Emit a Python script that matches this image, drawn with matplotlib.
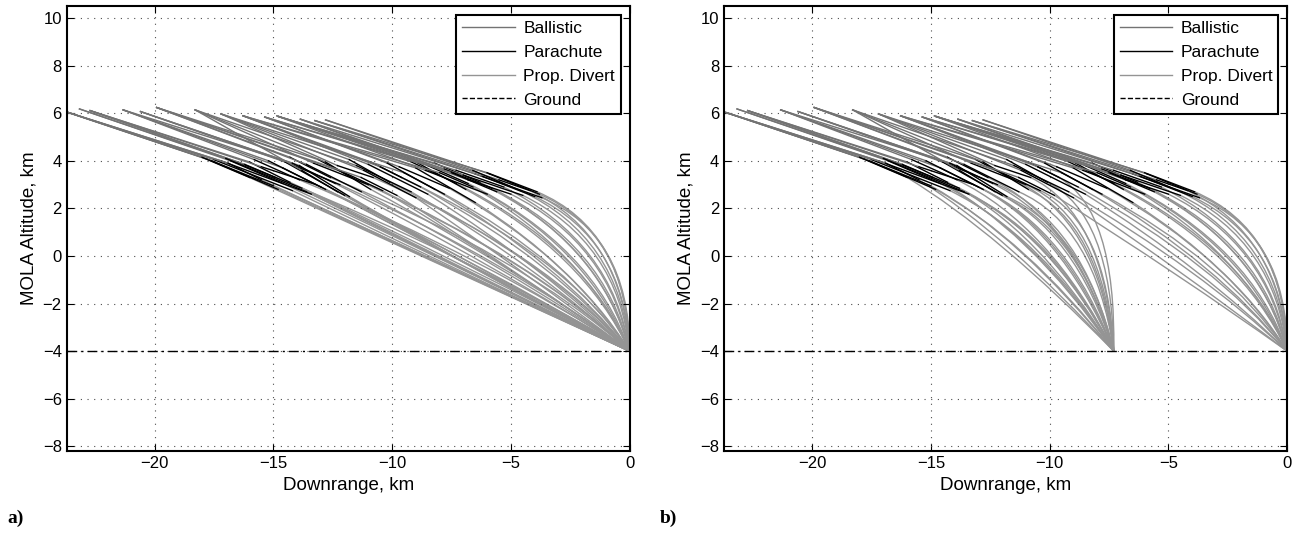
import matplotlib
matplotlib.use("Agg")
import matplotlib.pyplot as plt
from matplotlib.path import Path
from matplotlib.patches import PathPatch
from matplotlib.lines import Line2D

plt.rcParams['font.family'] = ['Liberation Sans', 'DejaVu Sans']

# ballistic start points (km)
start_x = [-23.63, -23.63, -23.63, -23.16, -22.71, -23.63, -22.71, -21.32,
           -21.32, -20.59, -19.91, -20.59, -19.91, -18.29, -18.29, -21.32,
           -17.2, -18.29, -17.2, -16.27, -19.91, -16.27,
           -15.36, -14.78, -16.27, -15.36, -14.78, -17.2,
           -13.86, -13.25, -12.8, -14.85, -13.86, -14.78, -13.25,
           -23.63, -23.16, -22.71, -21.32, -20.59, -19.91, -18.29, -17.2,
           -16.27, -19.91, -15.36, -14.78, -16.27, -13.86, -13.25, -12.8,
           -14.85, -15.36, -23.63, -22.71]
start_y = [6.03, 6.03, 6.03, 6.18, 6.11, 6.03, 6.11, 6.14,
           6.14, 6.07, 6.24, 6.07, 6.24, 6.14, 6.14, 6.14,
           5.97, 6.14, 5.97, 5.89, 6.24, 5.89,
           5.84, 5.86, 5.89, 5.84, 5.86, 5.97,
           5.75, 5.69, 5.72, 5.89, 5.75, 5.86, 5.69,
           6.03, 6.18, 6.11, 6.14, 6.07, 6.24, 6.14, 5.97,
           5.89, 6.24, 5.84, 5.86, 5.89, 5.75, 5.69, 5.72,
           5.89, 5.84, 6.03, 6.11]

# parachute deploy points
chute_x0 = [-17.8, -17.5, -17.2, -16.8, -16.5, -16.9, -16.2, -15.8,
            -14.85, -14.5, -14.3, -13.9, -13.6, -13.3, -13.8, -14.6,
            -11.8, -11.5, -11.2, -10.9, -12.0, -10.5,
            -9.2, -8.9, -9.0, -8.5, -8.2, -9.5,
            -6.5, -6.2, -5.9, -7.0, -6.8, -7.3, -5.5,
            -17.6, -17.0, -16.0, -15.2, -14.2, -13.1, -12.8, -12.3,
            -11.0, -11.3, -9.7, -8.6, -8.0, -7.8, -6.0, -6.6,
            -7.5, -10.2, -18.0, -15.5]
chute_y0 = [4.08, 4.05, 4.0, 4.0, 3.95, 3.9, 3.85, 4.05,
            4.1, 3.95, 4.15, 3.8, 3.85, 3.9, 3.6, 3.7,
            4.05, 3.8, 3.6, 3.95, 3.5, 3.75,
            3.96, 3.9, 3.7, 3.8, 3.9, 3.5,
            3.45, 3.35, 3.45, 3.4, 3.2, 3.6, 3.2,
            4.0, 4.1, 3.95, 4.0, 3.9, 4.05, 3.95, 3.8,
            3.85, 3.3, 3.75, 3.6, 3.5, 3.65, 3.5, 3.6,
            3.5, 3.9, 4.15, 3.75]

# parachute end / divert start points
chute_x1 = [-15.0, -14.2, -13.4, -14.6, -13.8, -15.5, -14.9, -13.9,
            -12.2, -12.0, -12.6, -11.8, -11.3, -11.0, -12.3, -13.0,
            -10.1, -9.2, -9.0, -9.6, -10.4, -8.8,
            -7.3, -6.9, -6.5, -6.8, -6.3, -7.8,
            -3.7, -4.0, -3.8, -4.5, -5.0, -5.3, -4.2,
            -14.8, -13.6, -14.3, -12.8, -12.4, -11.5, -10.9, -10.8,
            -8.5, -9.8, -7.6, -6.0, -6.6, -5.8, -3.9, -4.6,
            -5.6, -8.2, -16.0, -13.2]
chute_y1 = [2.95, 2.75, 2.6, 3.05, 2.85, 3.2, 3.3, 3.2,
            3.0, 2.55, 3.3, 2.5, 2.7, 3.0, 2.7, 2.9,
            3.1, 2.7, 2.45, 3.3, 2.75, 2.9,
            3.05, 2.8, 2.25, 3.05, 3.1, 2.6,
            2.45, 2.5, 2.6, 2.55, 2.6, 2.9, 2.75,
            2.8, 2.7, 3.1, 2.8, 3.05, 3.2, 2.8, 3.3,
            2.6, 2.55, 2.85, 2.6, 2.9, 2.85, 2.7, 2.75,
            2.7, 2.8, 3.3, 3.0]

# divert curve control points, case a (all to target at 0 km)
ctrl_a_x = [-7.5, -7.2, -6.8, -7.3, -7.0, -7.75, -6.8, -6.0,
            -5.0, -6.2, -4.5, -6.0, -5.0, -4.0, -6.0, -6.4,
            -3.4, -3.6, -4.2, -2.6, -4.6, -3.0,
            -1.8, -1.9, -2.3, -1.5, -1.2, -2.6,
            0.0, -0.2, -0.1, -0.5, -0.8, -0.7, -0.3,
            -7.4, -6.9, -7.0, -6.3, -5.6, -4.3, -4.8, -3.5,
            -3.4, -4.5, -2.4, -1.6, -1.9, -1.0, -0.1, -0.4,
            -1.1, -2.9, -8.0, -6.3]
ctrl_a_y = [-0.5, -0.6, -0.7, -0.4, -0.5, -0.4, 0.0, -0.1,
            -0.3, -0.8, 0.0, -0.9, -0.6, -0.2, -0.6, -0.5,
            -0.2, -0.6, -0.8, 0.0, -0.7, -0.3,
            0.3, 0.1, -0.4, 0.4, 0.6, -0.2,
            0.9, 0.7, 1.0, 0.6, 0.5, 0.6, 0.9,
            -0.6, -0.6, -0.3, -0.6, -0.4, 0.0, -0.5, 0.1,
            -0.6, -0.8, -0.1, 0.1, 0.2, 0.5, 1.1, 0.8,
            0.3, -0.3, -0.35, -0.3]

# case b: divert target per trajectory and control points
target_b = [-7.3, -7.3, -7.3, -7.3, -7.3, -7.3, -7.3, -7.3,
            -7.3, -7.3, -7.3, -7.3, -7.3, -7.3, -7.3, -7.3,
            -7.3, 0.0, 0.0, -7.3, -7.3, 0.0,
            0.0, 0.0, 0.0, 0.0, 0.0, 0.0,
            0.0, 0.0, 0.0, 0.0, 0.0, 0.0, 0.0,
            -7.3, -7.3, -7.3, -7.3, -7.3, -7.3, -7.3, -7.3,
            0.0, 0.0, 0.0, 0.0, 0.0, 0.0, 0.0, 0.0,
            0.0, 0.0, -7.3, -7.3]
ctrl_b_x = [-11.3, -10.4, -9.8, -10.7, -10.0, -11.8, -10.9, -10.0,
            -8.6, -8.7, -8.9, -8.5, -8.1, -7.8, -8.9, -9.4,
            -7.4, -3.6, -4.2, -7.2, -7.6, -3.0,
            -1.8, -1.9, -2.3, -1.5, -1.2, -2.6,
            0.0, -0.2, -0.1, -0.5, -0.8, -0.7, -0.3,
            -11.0, -9.9, -10.5, -9.2, -8.8, -8.0, -7.9, -7.7,
            -3.4, -4.5, -2.4, -1.6, -1.9, -1.0, -0.1, -0.4,
            -1.1, -2.9, -12.2, -9.6]
ctrl_b_y = [0.9, 0.9, 0.9, 1.1, 1.0, 0.9, 1.2, 1.3,
            1.4, 1.0, 1.6, 1.0, 1.3, 1.6, 1.1, 1.2,
            1.8, -0.6, -0.8, 1.9, 1.5, -0.3,
            0.3, 0.1, -0.4, 0.4, 0.6, -0.2,
            0.9, 0.7, 1.0, 0.6, 0.5, 0.6, 0.9,
            0.7, 0.9, 1.2, 1.1, 1.3, 1.6, 1.4, 1.8,
            -0.6, -0.8, -0.1, 0.1, 0.2, 0.5, 1.1, 0.8,
            0.3, -0.3, 1.0, 1.3]

ground_alt = -4.0
x_ticks = [-20, -15, -10, -5, 0]
y_ticks = [-8, -6, -4, -2, 0, 2, 4, 6, 8, 10]

c_ball = '0.45'
c_chute = 'k'
c_div = '0.58'


def draw_case(ax, targets, cx, cy):
    for i in range(len(start_x)):
        ax.plot([start_x[i], chute_x0[i]], [start_y[i], chute_y0[i]],
                color=c_ball, lw=1.0)
        ax.plot([chute_x0[i], chute_x1[i]], [chute_y0[i], chute_y1[i]],
                color=c_chute, lw=1.0)
        verts = [(chute_x1[i], chute_y1[i]), (cx[i], cy[i]), (targets[i], ground_alt)]
        codes = [Path.MOVETO, Path.CURVE3, Path.CURVE3]
        ax.add_patch(PathPatch(Path(verts, codes), fill=False,
                               edgecolor=c_div, lw=1.0))
    ax.axhline(ground_alt, color='k', ls=(0, (7, 3, 1.5, 3)), lw=1.0)

    ax.set_xlim(-23.7, 0)
    ax.set_ylim(-8.2, 10.5)
    ax.set_xticks(x_ticks)
    ax.set_yticks(y_ticks)
    ax.grid(True, color='0.3', ls=(0, (1, 5)), lw=0.8)
    ax.tick_params(direction='in', top=True, right=True, labelsize=12,
                   length=5, width=0.8)
    for s in ax.spines.values():
        s.set_linewidth(1.5)
    ax.set_xlabel('Downrange, km', fontsize=13.5)
    ax.set_ylabel('MOLA Altitude, km', fontsize=13.5)

    handles = [Line2D([], [], color=c_ball, lw=1),
               Line2D([], [], color=c_chute, lw=1),
               Line2D([], [], color=c_div, lw=1),
               Line2D([], [], color='k', ls='--', lw=1)]
    leg = ax.legend(handles, ['Ballistic', 'Parachute', 'Prop. Divert', 'Ground'],
                    loc='upper right', fontsize=12.5, fancybox=False, framealpha=1,
                    edgecolor='k', handlelength=3, labelspacing=0.5,
                    borderpad=0.35, handletextpad=0.5, borderaxespad=0.5)
    leg.get_frame().set_linewidth(1.5)


fig = plt.figure(figsize=(12.99, 5.39), dpi=100)
ax1 = fig.add_axes([0.0513, 0.163, 0.4334, 0.8256])
ax2 = fig.add_axes([0.5575, 0.163, 0.4334, 0.8256])

draw_case(ax1, [0.0] * len(start_x), ctrl_a_x, ctrl_a_y)
draw_case(ax2, target_b, ctrl_b_x, ctrl_b_y)

fig.text(0.006, 0.03, 'a)', fontsize=14, fontweight='bold',
         family=['Liberation Serif', 'DejaVu Serif'])
fig.text(0.508, 0.03, 'b)', fontsize=14, fontweight='bold',
         family=['Liberation Serif', 'DejaVu Serif'])

fig.savefig('out.png', dpi=100)
